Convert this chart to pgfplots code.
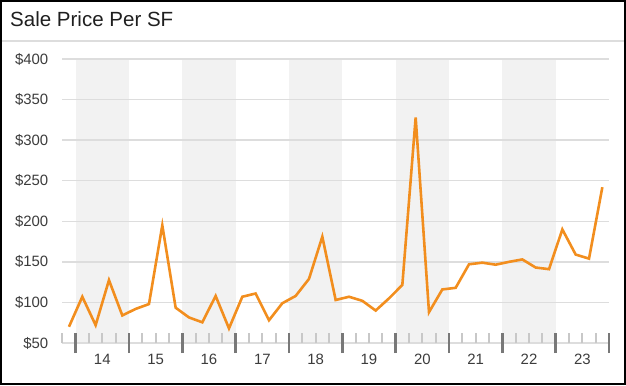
\documentclass[border=0pt]{standalone}
\usepackage{fontspec}
\setmainfont{Liberation Sans}
\usepackage{pgfplots}
\usepackage{pgfplotstable}
\pgfplotsset{compat=1.18}
\definecolor{lineorange}{RGB}{242,142,30}
\definecolor{band}{RGB}{242,242,242}
\definecolor{gridc}{RGB}{221,221,221}
\definecolor{labc}{RGB}{60,60,60}
\definecolor{majtick}{RGB}{120,120,120}
\definecolor{mintick}{RGB}{200,200,200}
\pgfplotstableread{
q v
0 70
1 107
2 72
3 127.5
4 84
5 92
6 98
7 195
8 93.5
9 81.5
10 75.5
11 108
12 68
13 107
14 111
15 78
16 99
17 108
18 129
19 181
20 103
21 107
22 102
23 90
24 105
25 121.5
26 328
27 88
28 116
29 118
30 147
31 149
32 146.5
33 150
34 153
35 143
36 141
37 190
38 159
39 154
40 242
}\pricedata
\begin{document}
\begin{tikzpicture}[x=1bp,y=1bp]
\draw[black, line width=2bp] (1,1) rectangle (625,384);
\draw[gridc, line width=1.5bp] (2,344) -- (624,344);
\node[anchor=base west, inner sep=0, text=black!88, font=\fontsize{20.6}{24}\selectfont] at (10,358.5) {Sale Price Per SF};
\begin{axis}[
  set layers,
  at={(62.3bp,42bp)}, anchor=south west,
  scale only axis, width=546.7bp, height=284bp,
  xmin=-0.5, xmax=40.5, ymin=50, ymax=400,
  axis line style={draw=none},
  ytick={50,100,...,400},
  yticklabels={\$50,\$100,\$150,\$200,\$250,\$300,\$350,\$400},
  ymajorgrids, grid style={gridc, line width=1.5bp},
  xtick={2.5,6.5,...,38.5},
  xticklabels={14,15,16,17,18,19,20,21,22,23},
  minor xtick={-0.5,0.5,...,40.5},
  minor tick length=10bp,
  tick align=inside,
  every minor tick/.append style={mintick, line width=2.2bp},
  every major tick/.append style={majtick, line width=2.4bp},
  major tick length=0pt,
  extra x ticks={0.5,4.5,...,40.5},
  extra x tick labels={},
  extra x tick style={major tick length=20bp, tick align=center},
  tick pos=left,
  yticklabel style={font=\fontsize{15}{18}\selectfont, text=labc, xshift=-10.5bp},
  xticklabel style={font=\fontsize{15}{18}\selectfont, text=labc, yshift=-7.5bp},
]
\begin{pgfonlayer}{axis background}
\fill[band] (axis cs:0.5,50) rectangle (axis cs:4.5,400);
\fill[band] (axis cs:8.5,50) rectangle (axis cs:12.5,400);
\fill[band] (axis cs:16.5,50) rectangle (axis cs:20.5,400);
\fill[band] (axis cs:24.5,50) rectangle (axis cs:28.5,400);
\fill[band] (axis cs:32.5,50) rectangle (axis cs:36.5,400);
\end{pgfonlayer}
\addplot[color=lineorange, line width=2.6bp, mark=none] table[x=q, y=v] {\pricedata};
\end{axis}
\end{tikzpicture}
\end{document}
